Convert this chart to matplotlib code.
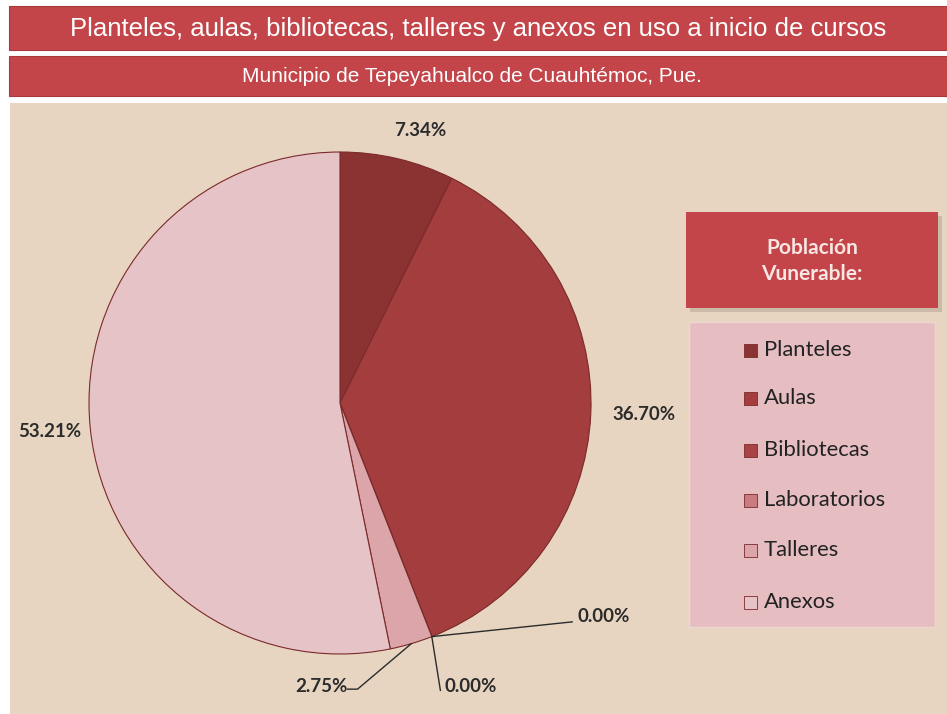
import matplotlib
matplotlib.use("Agg")
import matplotlib.pyplot as plt
from matplotlib.patches import Rectangle
import numpy as np

categories = ["Planteles", "Aulas", "Bibliotecas", "Laboratorios", "Talleres", "Anexos"]
values = [7.34, 36.70, 0.00, 0.00, 2.75, 53.21]
colors = ["#8B3333", "#A33D3E", "#A84446", "#C97B80", "#DBA5AA", "#E6C3C7"]
title = "Planteles, aulas, bibliotecas, talleres y anexos en uso a inicio de cursos"
subtitle = "Municipio de Tepeyahualco de Cuauhtémoc, Pue."
legend_title = "Población\nVunerable:"

W, H = 947, 714
fig = plt.figure(figsize=(W / 100, H / 100), dpi=100)
fig.patch.set_facecolor("white")

def px(x, y, w, h):
    return (x / W, 1 - (y + h) / H, w / W, h / H)

def rect(x, y, w, h, **kw):
    l, b, ww, hh = px(x, y, w, h)
    fig.patches.append(Rectangle((l, b), ww, hh, transform=fig.transFigure, **kw))

bar_col = "#C3454A"
beige = "#E8D5C1"
# bars
rect(9, 6, 938, 44, facecolor=bar_col, edgecolor="#A83A3E", lw=0.8)
rect(9, 56, 938, 40, facecolor=bar_col, edgecolor="#A83A3E", lw=0.8)
rect(10, 103, 937, 611, facecolor=beige, edgecolor="none")

tfont = ["Liberation Sans Narrow", "Liberation Sans", "DejaVu Sans"]
fig.text(478 / W, 1 - 29 / H, title, ha="center", va="center", color="white",
         fontsize=18.5, family=tfont)
fig.text(472 / W, 1 - 76 / H, subtitle, ha="center", va="center", color="white",
         fontsize=15, family=tfont)

# pie
cx, cy, r = 340, 403, 251
ax = fig.add_axes(px(cx - r, cy - r, 2 * r, 2 * r))
ax.set_zorder(5)
ax.set_facecolor("none")
wedges, _ = ax.pie(values, colors=colors, startangle=90, counterclock=False,
                   radius=1.0, wedgeprops=dict(edgecolor="#7A2A2A", linewidth=0.8))
ax.set_xlim(-1, 1)
ax.set_ylim(-1, 1)
ax.set_aspect("equal")
ax.axis("off")

lfont = ["Lato", "DejaVu Sans"]
lab_col = "#2B2B2B"

def edge_point(angle_deg, rr=1.0):
    a = np.deg2rad(angle_deg)
    return rr * np.cos(a), rr * np.sin(a)

# label placements (axes data units), ha
placements = [
    ((0.32, 1.085), "center", None),
    ((1.21, -0.045), "center", None),
    ((0.945, -0.852), "left", [(0.925, -0.872)]),
    ((0.415, -1.13), "left", [(0.40, -1.145)]),
    ((0.03, -1.13), "right", [(0.07, -1.14), (0.03, -1.14)]),
    ((-1.155, -0.115), "center", None),
]
for w, v, (pos, ha, path) in zip(wedges, values, placements):
    ax.text(pos[0], pos[1], f"{v:.2f}%", ha=ha, va="center", fontsize=13.5,
            fontweight="bold", color=lab_col, family=lfont, clip_on=False)
    if path is not None:
        if v == 0:
            a = w.theta1
            sx, sy = edge_point(a)
        else:
            a = (w.theta1 + w.theta2) / 2
            sx, sy = edge_point(a, 1.0)
        xs = [sx] + [p[0] for p in path]
        ys = [sy] + [p[1] for p in path]
        ax.plot(xs, ys, color="#2B2B2B", lw=1.0, clip_on=False)

# legend header
rect(690, 216, 252, 96, facecolor="#B8A898", edgecolor="none", alpha=0.6)
rect(686, 212, 252, 96, facecolor=bar_col, edgecolor="none")
fig.text(812 / W, 1 - 261 / H, legend_title, ha="center", va="center",
         color="#F8E6E2", fontsize=15, fontweight="bold", family=lfont,
         linespacing=1.35)

# legend box
rect(689, 322, 246, 305, facecolor="#E6BEC1", edgecolor="#EED6D3", lw=1.0)
ys = [350, 398, 450, 500, 550, 602]
for cat, col, y in zip(categories, colors, ys):
    rect(744, y - 6, 13, 13, facecolor=col, edgecolor="#7A2A2A", lw=0.6)
    fig.text(764 / W, 1 - y / H, cat, ha="left", va="center", fontsize=15.8,
             color="#222222", family=lfont)

fig.savefig("out.png", dpi=100, facecolor=fig.get_facecolor())
